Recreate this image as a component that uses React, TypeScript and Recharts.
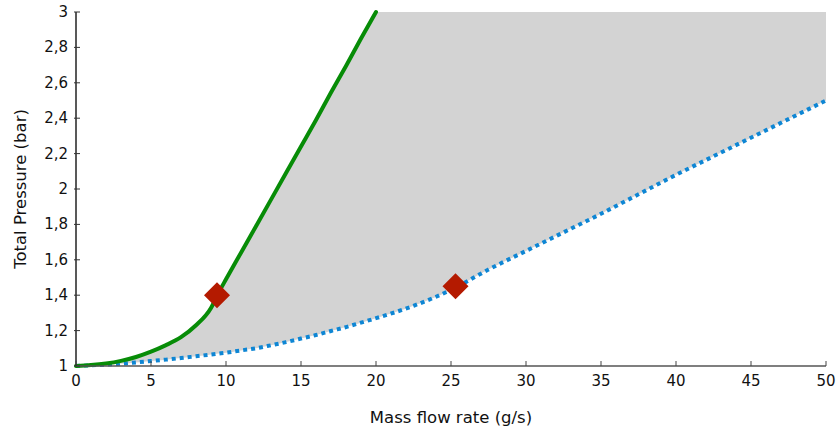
import { ComposedChart, Area, Line, Scatter, XAxis, YAxis } from "recharts"

// mass flow rate (g/s)
const massFlow = [
    0, 1, 2, 3, 4, 5, 6, 7, 8, 9, 9.5, 10, 11, 12, 13, 14, 15, 16, 17, 18, 19, 20,
    22.5, 25, 27.5, 30, 32.5, 35, 37.5, 40, 42.5, 45, 47.5, 50,
]

// upper curve (green), only read up to 20 g/s where it leaves the plot
const upperPressure = [
    1.0, 1.005, 1.014, 1.029, 1.051, 1.081, 1.118, 1.163, 1.23, 1.328, 1.413, 1.49,
    1.64, 1.79, 1.94, 2.09, 2.24, 2.39, 2.545, 2.695, 2.85, 3.0,
]

// lower curve (blue, dotted)
const lowerPressure = [
    1.0, 1.004, 1.008, 1.013, 1.02, 1.028, 1.036, 1.045, 1.055, 1.065, 1.07, 1.075,
    1.088, 1.1, 1.117, 1.135, 1.155, 1.175, 1.198, 1.22, 1.245, 1.27,
    1.34, 1.43, 1.545, 1.65, 1.755, 1.86, 1.97, 2.08, 2.185, 2.29, 2.395, 2.5,
]

const markerFlow = [9.4, 25.3]
const markerPressure = [1.4, 1.45]

const xTicks = [0, 5, 10, 15, 20, 25, 30, 35, 40, 45, 50]
const yTicks = [1, 1.2, 1.4, 1.6, 1.8, 2, 2.2, 2.4, 2.6, 2.8, 3]

const Y_MAX = 3
const FONT = "'DejaVu Sans', sans-serif"

const data = massFlow.map((x, i) => {
    const upper = upperPressure[i]
    return {
        x,
        upper,
        lower: lowerPressure[i],
        band: [lowerPressure[i], upper ?? Y_MAX],
    }
})

const markers = markerFlow.map((x, i) => ({ x, y: markerPressure[i] }))

function XTick(props: any) {
    const { x, y, payload } = props
    return (
        <g>
            <line x1={x} y1={y} x2={x} y2={y - 5} stroke="#444" strokeWidth={1} />
            <text x={x} y={y + 20} textAnchor="middle" fontSize={15} fontFamily={FONT} fill="#111">
                {payload.value}
            </text>
        </g>
    )
}

function YTick(props: any) {
    const { x, y, payload } = props
    return (
        <g>
            <line x1={x - 2} y1={y} x2={x + 4} y2={y} stroke="#333" strokeWidth={1} />
            <text x={x - 8} y={y + 5} textAnchor="end" fontSize={15} fontFamily={FONT} fill="#111">
                {String(payload.value).replace(".", ",")}
            </text>
        </g>
    )
}

function Diamond(props: any) {
    const { cx, cy } = props
    const r = 13
    return (
        <polygon
            points={`${cx},${cy - r} ${cx + r},${cy} ${cx},${cy + r} ${cx - r},${cy}`}
            fill="#b41a00"
        />
    )
}

export default function App() {
    return (
        <div style={{ position: "absolute", left: 0, top: 0, width: 838, height: 430, background: "#fff" }}>
            <ComposedChart
                width={838}
                height={430}
                data={data}
                margin={{ top: 12, right: 12, left: 0, bottom: 0 }}
            >
                <XAxis
                    dataKey="x"
                    type="number"
                    domain={[0, 50]}
                    ticks={xTicks}
                    height={64}
                    tickSize={0}
                    tickMargin={0}
                    tickLine={false}
                    tick={<XTick />}
                    axisLine={{ stroke: "#555", strokeWidth: 1.5 }}
                    label={{
                        content: (p: any) => {
                            const vb = p.viewBox
                            return (
                                <text x={vb.x + vb.width / 2} y={423} textAnchor="middle" fontSize={16.5} fontFamily={FONT} fill="#111">
                                    Mass flow rate (g/s)
                                </text>
                            )
                        },
                    }}
                />
                <YAxis
                    type="number"
                    domain={[1, Y_MAX]}
                    ticks={yTicks}
                    width={76}
                    tickSize={0}
                    tickMargin={0}
                    tickLine={false}
                    tick={<YTick />}
                    axisLine={{ stroke: "#222", strokeWidth: 1.5 }}
                    label={{
                        content: (p: any) => {
                            const vb = p.viewBox
                            const cy = vb.y + vb.height / 2
                            return (
                                <text
                                    x={26}
                                    y={cy}
                                    transform={`rotate(-90 26 ${cy})`}
                                    textAnchor="middle"
                                    fontSize={16.5}
                                    fontFamily={FONT}
                                    fill="#111"
                                >
                                    Total Pressure (bar)
                                </text>
                            )
                        },
                    }}
                />
                <Area
                    dataKey="band"
                    type="monotone"
                    fill="#d3d3d3"
                    fillOpacity={1}
                    stroke="none"
                    isAnimationActive={false}
                />
                <Line
                    dataKey="lower"
                    type="monotone"
                    stroke="#0e86d4"
                    strokeWidth={4}
                    strokeDasharray="4 4"
                    dot={false}
                    isAnimationActive={false}
                />
                <Line
                    dataKey="upper"
                    type="monotone"
                    stroke="#078c07"
                    strokeWidth={4}
                    strokeLinecap="round"
                    dot={false}
                    isAnimationActive={false}
                />
                <Scatter data={markers} dataKey="y" shape={<Diamond />} isAnimationActive={false} />
            </ComposedChart>
        </div>
    )
}
